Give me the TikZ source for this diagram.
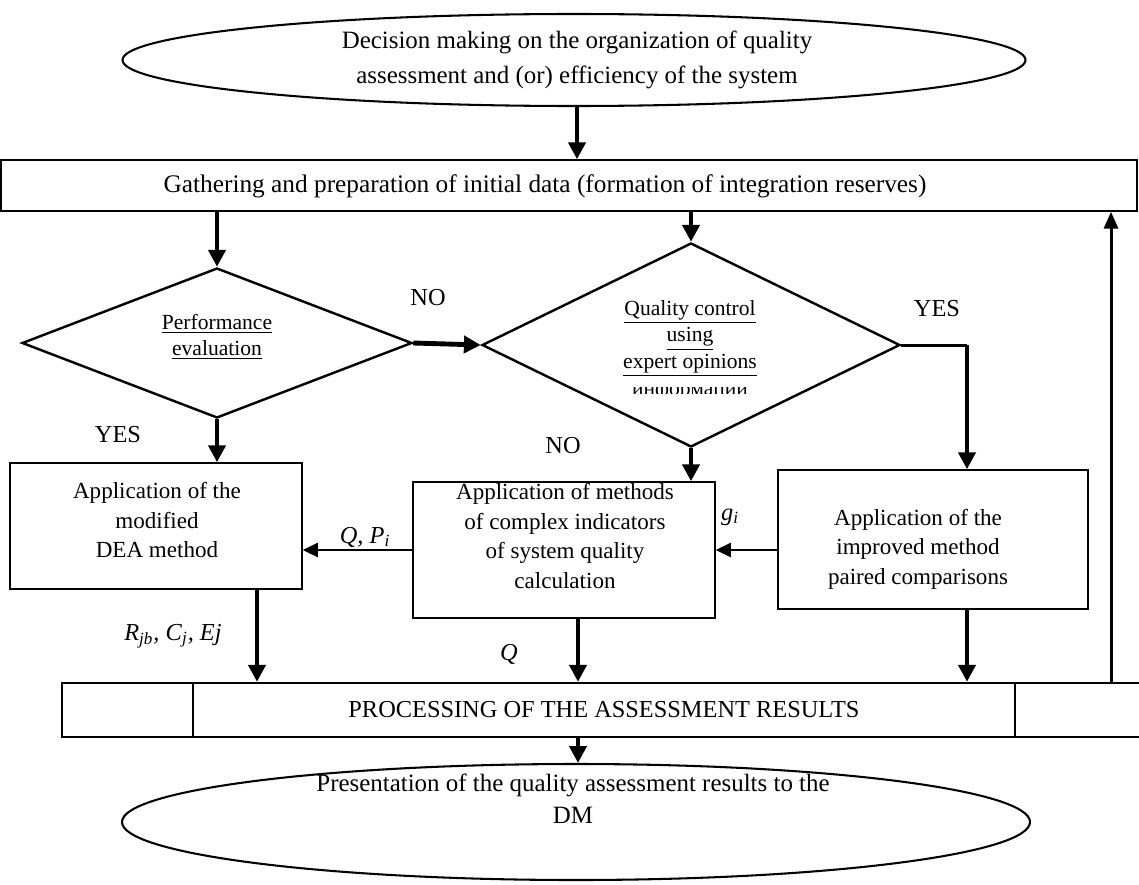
\documentclass[tikz,border=0pt]{standalone}
\usepackage{fontspec}
\setmainfont{Liberation Serif}
\usetikzlibrary{shapes.geometric,arrows.meta}
\newcommand{\pu}{0.5333pt}
\tikzset{
  box/.style={draw, rectangle, line width=0.8pt, inner sep=0pt},
  lbl/.style={inner sep=0pt, align=center, font=\fontsize{13}{16}\selectfont},
  boxtxt/.style={lbl, font=\fontsize{12.3}{15.8}\selectfont},
  flow/.style={line width=2.6pt, -{Triangle[width=9pt,length=9pt]}},
  link/.style={line width=1.1pt, -{Triangle[width=7.5pt,length=8pt]}},
}
\begin{document}
\begin{tikzpicture}[x=\pu, y=-\pu]
\useasboundingbox (0,0) rectangle (1139,884);
% top and bottom ellipses
\node[draw, ellipse, line width=1.1pt, inner sep=0pt, minimum width=903*\pu, minimum height=92*\pu] (start) at (574,60){};
\node[lbl, font=\fontsize{13.3}{18.7}\selectfont] (starttxt) at (577,60){Decision making on the organization of quality\\assessment and (or) efficiency of the system};
\node[draw, ellipse, line width=1.1pt, inner sep=0pt, minimum width=908*\pu, minimum height=116*\pu] (finish) at (576,822){};
\node[lbl, font=\fontsize{13.3}{17}\selectfont] (finishtxt) at (573,799){Presentation of the quality assessment results to the\\DM};
% gathering box
\node[box, minimum width=1136*\pu, minimum height=51*\pu] (gather) at (569,185.5){};
\node[lbl, font=\fontsize{13.5}{16}\selectfont] (gathertxt) at (545,186){Gathering and preparation of initial data (formation of integration reserves)};
\draw[flow] (start.south -| 577,0) -- (577,0 |- gather.north);
% decisions
\node[draw, diamond, line width=1.3pt, inner sep=0pt, minimum width=390*\pu, minimum height=150*\pu] (perf) at (217,343){};
\node[lbl, font=\fontsize{11.5}{14}\selectfont] (perftxt) at (217,337){\underline{Performance}\\\underline{evaluation}};
\node[draw, diamond, line width=1.3pt, inner sep=0pt, minimum width=418*\pu, minimum height=204*\pu] (qual) at (691,345){};
\node[lbl, font=\fontsize{11.5}{14}\selectfont] (qualtxt) at (690,338.5){\underline{Quality control}\\\underline{using}\\\underline{expert opinions}};
\begin{scope}
\clip (600,387) rectangle (780,393);
\node[lbl, font=\fontsize{11.5}{14}\selectfont, anchor=base] (infotxt) at (690,395){\underline{информации}};
\end{scope}
\draw[flow] (perf.north |- gather.south) -- (perf.north);
\draw[flow] (qual.north |- gather.south) -- (qual.north);
\draw[flow] (perf.east) -- (qual.west);
\node[lbl] (no1) at (428,298){NO};
\coordinate (yescorner) at (967,345);
\draw[line width=1.6pt] (qual.east) -- (yescorner);
\node[lbl] (yes1) at (937,309){YES};
\node[lbl] (yes2) at (118,435){YES};
\node[lbl] (no2) at (563,446){NO};
% method boxes
\node[box, minimum width=292*\pu, minimum height=126*\pu] (dea) at (156,526){};
\node[boxtxt] (deatxt) at (157,520){Application of the\\modified\\DEA method};
\node[box, minimum width=302*\pu, minimum height=136*\pu] (cmplx) at (564,550){};
\node[boxtxt] (cmplxtxt) at (565,536){Application of methods\\of complex indicators\\of system quality\\calculation};
\node[box, minimum width=310*\pu, minimum height=139*\pu] (pair) at (933,539.5){};
\node[boxtxt] (pairtxt) at (918,549){Application of the\\improved method\\paired comparisons};
\draw[flow] (perf.south) -- (perf.south |- dea.north);
\draw[flow] (qual.south) -- (qual.south |- cmplx.north);
\draw[flow] (yescorner) -- (yescorner |- pair.north);
\draw[link] (cmplx.west) -- (cmplx.west -| dea.east);
\draw[link] (cmplx.east -| pair.west) -- (cmplx.east);
\node[lbl] (qp) at (365,537){\textit{Q, P}\textsubscript{\textit{i}}};
\node[lbl] (gi) at (730,517){\textit{g}\textsubscript{\textit{i}}};
% processing bar
\node[box, line width=1.3pt, minimum width=1088*\pu, minimum height=54*\pu] (proc) at (606,710){};
\node[lbl] (proctxt) at (604,710){PROCESSING OF THE ASSESSMENT RESULTS};
\draw[line width=1.3pt] (193,0 |- proc.north) -- (193,0 |- proc.south);
\draw[line width=1.3pt] (1015,0 |- proc.north) -- (1015,0 |- proc.south);
\draw[flow] (dea.south -| 257,0) -- (257,0 |- proc.north);
\draw[flow] (cmplx.south -| 578,0) -- (578,0 |- proc.north);
\draw[flow] (yescorner |- pair.south) -- (yescorner |- proc.north);
\node[lbl] (rce) at (173,636){\textit{R}\textsubscript{\textit{jb}}\textit{, C}\textsubscript{\textit{j}}\textit{, Ej}};
\node[lbl] (q) at (509,654){\textit{Q}};
\draw[line width=1.6pt, -{Triangle[width=7.5pt,length=9pt]}] (1111,0 |- proc.north) -- (1111,0 |- gather.south);
\draw[flow] (proc.south -| 578,0) -- (578,0 |- finish.north);
\end{tikzpicture}
\end{document}
